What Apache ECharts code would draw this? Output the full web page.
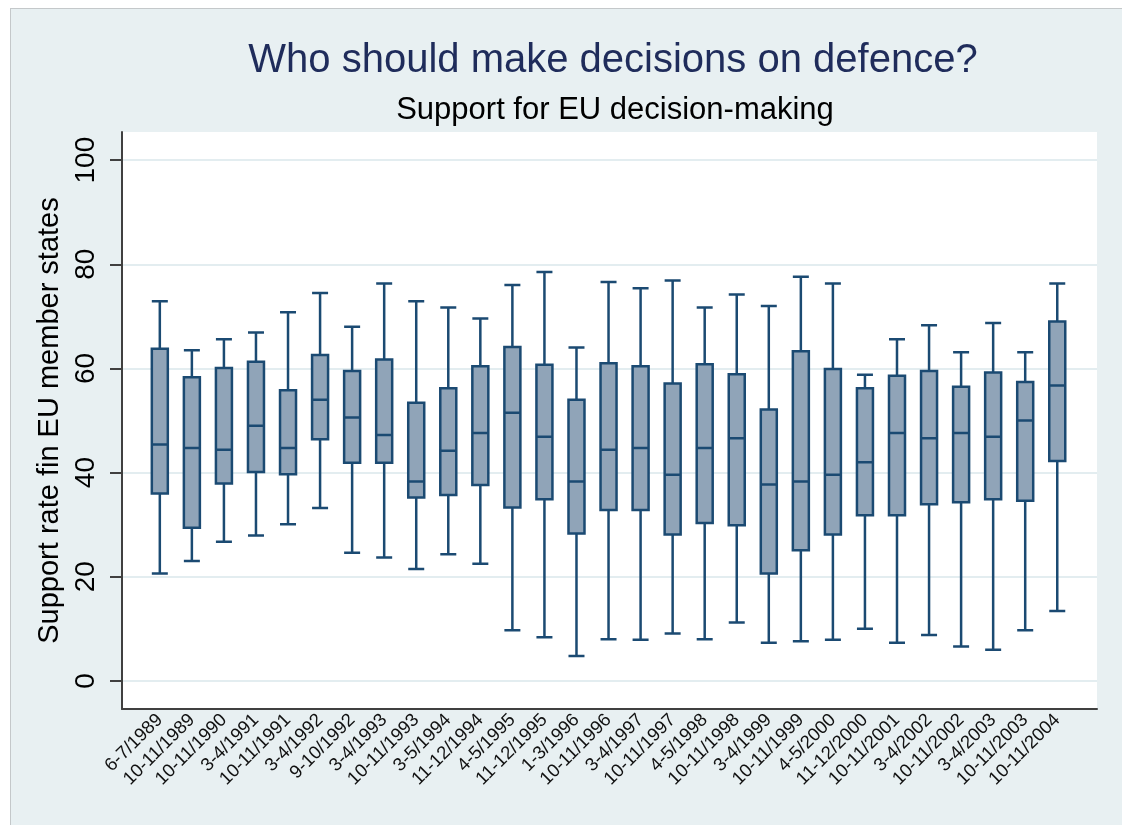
<!DOCTYPE html>
<html>
<head>
<meta charset="utf-8">
<title>Who should make decisions on defence?</title>
<script src="https://cdn.jsdelivr.net/npm/echarts@6/dist/echarts.min.js"></script>
<style>
  html, body { margin: 0; padding: 0; background: #ffffff; width: 1122px; height: 825px; overflow: hidden; }
  #frame {
    position: absolute; left: 10px; top: 8px; right: 0; bottom: 0;
    border-left: 1px solid #c4c8ca; border-top: 1px solid #c4c8ca;
    background: #e8f0f2;
  }
  #chart { width: 100%; height: 100%; }
</style>
</head>
<body>
<div id="frame"><div id="chart"></div></div>
<script>
// Survey waves (Eurobarometer fieldwork periods)
const categories = [
  '6-7/1989', '10-11/1989', '10-11/1990', '3-4/1991', '10-11/1991',
  '3-4/1992', '9-10/1992', '3-4/1993', '10-11/1993', '3-5/1994',
  '11-12/1994', '4-5/1995', '11-12/1995', '1-3/1996', '10-11/1996',
  '3-4/1997', '10-11/1997', '4-5/1998', '10-11/1998', '3-4/1999',
  '10-11/1999', '4-5/2000', '11-12/2000', '10-11/2001', '3-4/2002',
  '10-11/2002', '3-4/2003', '10-11/2003', '10-11/2004'
];

// Distribution of support across member states, per wave
const whiskerLow = [20.6, 23.0, 26.7, 27.9, 30.1, 33.2, 24.6, 23.7, 21.5, 24.3,
  22.5, 9.7, 8.4, 4.8, 8.0, 7.9, 9.1, 8.0, 11.2, 7.3,
  7.6, 7.9, 10.0, 7.3, 8.8, 6.6, 6.0, 9.7, 13.4];
const q1 = [36.0, 29.4, 37.9, 40.1, 39.7, 46.4, 41.9, 41.9, 35.2, 35.7,
  37.6, 33.3, 34.9, 28.3, 32.8, 32.8, 28.1, 30.3, 29.9, 20.6,
  25.1, 28.1, 31.8, 31.8, 33.9, 34.3, 34.9, 34.6, 42.2];
const median = [45.4, 44.7, 44.4, 49.0, 44.7, 54.0, 50.6, 47.2, 38.3, 44.2,
  47.6, 51.5, 46.9, 38.3, 44.4, 44.7, 39.6, 44.7, 46.6, 37.7,
  38.3, 39.6, 42.0, 47.6, 46.6, 47.6, 46.9, 50.0, 56.7];
const q3 = [63.8, 58.3, 60.1, 61.3, 55.8, 62.6, 59.5, 61.7, 53.4, 56.2,
  60.4, 64.1, 60.7, 54.0, 61.0, 60.4, 57.1, 60.8, 58.9, 52.1,
  63.3, 59.9, 56.2, 58.6, 59.5, 56.5, 59.2, 57.4, 69.0];
const whiskerHigh = [72.9, 63.5, 65.6, 66.9, 70.8, 74.5, 68.0, 76.3, 72.9, 71.7,
  69.6, 76.0, 78.5, 64.0, 76.6, 75.4, 76.9, 71.7, 74.2, 72.0,
  77.6, 76.3, 58.8, 65.6, 68.3, 63.1, 68.7, 63.1, 76.3];

const yTicks = [0, 20, 40, 60, 80, 100];

// Waves sit at positions 1..N on a numeric axis
const positions = categories.map((_, i) => i + 1);
const boxData = positions.map((p, i) => [p, whiskerLow[i], q1[i], median[i], q3[i], whiskerHigh[i]]);

const FONT = '"Liberation Sans", Arial, Helvetica, sans-serif';
const chart = echarts.init(document.getElementById('chart'), null, { renderer: 'canvas' });

chart.setOption({
  backgroundColor: '#e8f0f2',
  animation: false,
  title: [
    {
      text: 'Who should make decisions on defence?',
      left: 597, top: 27, textAlign: 'center',
      textStyle: { fontFamily: FONT, fontSize: 40, fontWeight: 'normal', color: '#1f2c5b' }
    },
    {
      text: 'Support for EU decision-making',
      left: 599, top: 81, textAlign: 'center',
      textStyle: { fontFamily: FONT, fontSize: 31, fontWeight: 'normal', color: '#000000' }
    }
  ],
  grid: {
    left: 111, right: 25, top: 123, bottom: 116,
    show: true, backgroundColor: '#ffffff', borderWidth: 0
  },
  xAxis: {
    type: 'value',
    min: -0.18, max: 30.24,
    axisLine: { show: true, onZero: false, lineStyle: { color: '#404040', width: 2 } },
    axisTick: { show: false, customValues: positions },
    splitLine: { show: false },
    axisLabel: {
      customValues: positions,
      rotate: 45,
      margin: 8,
      fontFamily: FONT, fontSize: 18.5, color: '#111111',
      formatter: v => categories[Math.round(v) - 1] || ''
    }
  },
  yAxis: {
    type: 'value',
    min: -5.4, max: 105.4,
    name: 'Support rate fin EU member states',
    nameLocation: 'middle',
    nameRotate: 90,
    nameGap: 56,
    nameTextStyle: { fontFamily: FONT, fontSize: 29, color: '#000000' },
    axisLine: { show: true, onZero: false, lineStyle: { color: '#404040', width: 2 } },
    axisTick: { show: true, length: 12, customValues: yTicks, lineStyle: { color: '#404040', width: 2 } },
    splitLine: { show: true, lineStyle: { color: '#e3edf0', width: 2 } },
    axisLabel: {
      customValues: yTicks,
      rotate: 90,
      margin: 22,
      fontFamily: FONT, fontSize: 28, color: '#000000'
    }
  },
  series: [{
    type: 'boxplot',
    layout: 'horizontal',
    data: boxData,
    boxWidth: [16, 16],
    itemStyle: { color: '#90a4b8', borderColor: '#1b4a72', borderWidth: 2.5 },
    emphasis: { disabled: true }
  }]
});
</script>
</body>
</html>
